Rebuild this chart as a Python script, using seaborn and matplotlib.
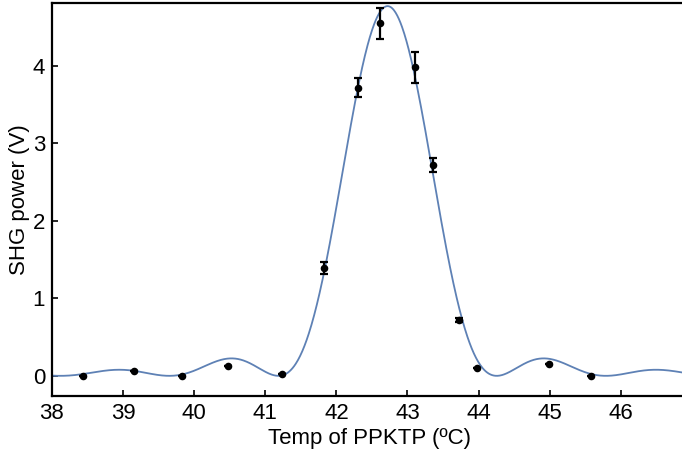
import numpy as np
import pandas as pd
import matplotlib
matplotlib.use("Agg")
import matplotlib.pyplot as plt
import seaborn as sns

# Measured data
temp = [38.44, 39.16, 39.83, 40.48, 41.24, 41.83, 42.31, 42.61, 43.11, 43.36, 43.73, 43.98, 44.99, 45.58]
power = [0.00, 0.06, 0.00, 0.13, 0.03, 1.39, 3.72, 4.55, 3.98, 2.72, 0.72, 0.10, 0.15, 0.00]
err = [0.0, 0.0, 0.0, 0.0, 0.0, 0.08, 0.12, 0.20, 0.20, 0.09, 0.03, 0.0, 0.0, 0.0]

# sinc^2 fit parameters
fit_amp = 4.77
fit_center = 42.72
fit_zero_spacing = 1.535

x_ticks = [38, 39, 40, 41, 42, 43, 44, 45, 46]
y_ticks = [0, 1, 2, 3, 4]

sns.set_theme(style="ticks")
plt.rcParams['font.family'] = ['Liberation Sans', 'DejaVu Sans']

fig = plt.figure(figsize=(6.82, 4.58), dpi=100)
ax = fig.add_axes([0.0762, 0.1354, 0.93, 0.858])

tfit = np.linspace(37.9, 47.0, 1200)
yfit = fit_amp * np.sinc((tfit - fit_center) / fit_zero_spacing) ** 2
fit_df = pd.DataFrame({"T": tfit, "P": yfit})
sns.lineplot(data=fit_df, x="T", y="P", ax=ax, color="#5E81B5", lw=1.3, zorder=2)

df = pd.DataFrame({"T": temp, "P": power, "E": err})
ax.errorbar(df["T"], df["P"], yerr=df["E"], fmt="none", ecolor="black",
            elinewidth=1.6, capsize=3, capthick=1.6, zorder=3)
sns.scatterplot(data=df, x="T", y="P", ax=ax, color="black", s=30,
                edgecolor="black", linewidth=0, zorder=4)

ax.set_xlim(38, 46.92)
ax.set_ylim(-0.26, 4.81)
ax.set_xticks(x_ticks)
ax.set_yticks(y_ticks)
ax.tick_params(direction="in", length=4, width=1.2, labelsize=16, colors="black", pad=5)
for side in ["left", "bottom", "top", "right"]:
    ax.spines[side].set_linewidth(1.6)
    ax.spines[side].set_color("black")
ax.set_xlabel("Temp of PPKTP (ºC)", fontsize=16, labelpad=3, color="black")
ax.set_ylabel("SHG power (V)", fontsize=16, labelpad=2, color="black")

fig.savefig("out.png", dpi=100)
